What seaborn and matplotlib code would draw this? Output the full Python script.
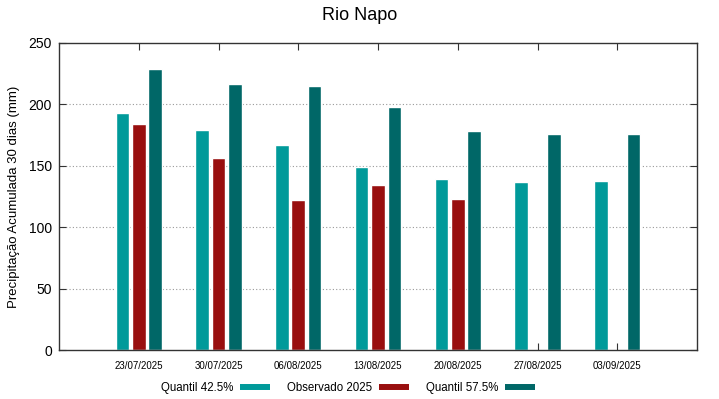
import pandas as pd
import numpy as np
import matplotlib
matplotlib.use('Agg')
import matplotlib.pyplot as plt
import seaborn as sns
from matplotlib.lines import Line2D

# dados
datas = ['23/07/2025', '30/07/2025', '06/08/2025', '13/08/2025',
         '20/08/2025', '27/08/2025', '03/09/2025']
q425 = [193, 179, 167, 149, 139, 137, 138]
obs2025 = [184, 156, 122, 134, 123, np.nan, np.nan]
q575 = [229, 217, 215, 198, 178, 176, 176]
series = ['Quantil 42.5%', 'Observado 2025', 'Quantil 57.5%']
cores = ['#009a9a', '#990f0f', '#006767']

df = pd.DataFrame({'data': datas * 3,
                   'serie': np.repeat(series, len(datas)),
                   'valor': q425 + obs2025 + q575})

sns.set_style('white')
plt.rcParams['font.family'] = ['Liberation Sans', 'DejaVu Sans']
plt.rcParams['text.color'] = 'black'
plt.rcParams['axes.labelcolor'] = 'black'
plt.rcParams['xtick.color'] = '#333333'
plt.rcParams['ytick.color'] = '#333333'

fig = plt.figure(figsize=(7.19, 3.99), dpi=100)
ax = fig.add_axes([59/719, 1-350/399, (697-59)/719, (350-43)/399])

sns.barplot(data=df, x='data', y='valor', hue='serie', order=datas,
            hue_order=series, palette=dict(zip(series, cores)),
            width=0.62, gap=0.18, saturation=1, legend=False, ax=ax)

ax.set_xlim(-1, len(datas))
ax.set_ylim(0, 250)
ax.set_yticks([0, 50, 100, 150, 200, 250])
ax.set_xlabel('')
ax.set_ylabel('Precipitação Acumulada 30 dias (mm)', fontsize=9.5, labelpad=6)
for y in [50, 100, 150, 200]:
    ax.axhline(y, color='#999999', lw=0.8, ls=(0, (1, 2)), zorder=0)
ax.tick_params(axis='x', direction='in', length=5, top=True, bottom=True,
               labelsize=7, pad=8, labelcolor='black')
ax.tick_params(axis='y', direction='in', length=5, left=True, right=True,
               labelsize=10, pad=5, labelcolor='black')
for s in ax.spines.values():
    s.set_color('#333333')
    s.set_linewidth(1)

fig.suptitle('Rio Napo', y=1-16/399, va='center', fontsize=13)

handles = [Line2D([], [], color=c, lw=4.3, solid_capstyle='butt') for c in cores]
fig.legend(handles, series, loc='center', bbox_to_anchor=(348/719, 1-388/399),
           ncol=3, frameon=False, markerfirst=False, fontsize=8.3,
           handlelength=2.6, handletextpad=0.55, columnspacing=1.5)

fig.savefig('out.png', dpi=100)
